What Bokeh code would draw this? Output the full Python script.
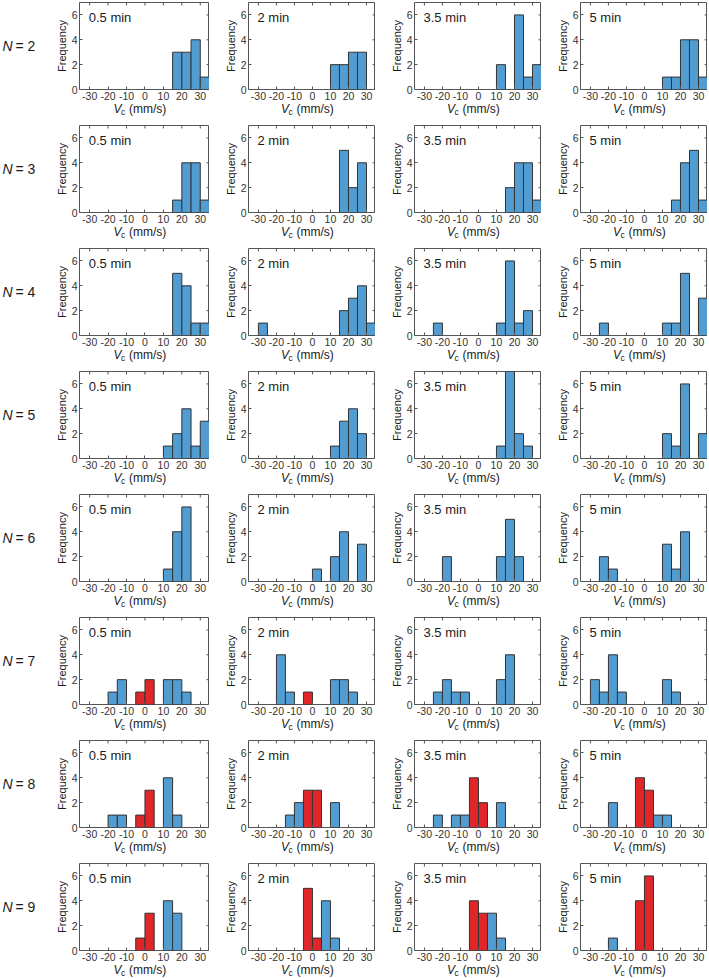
from bokeh.plotting import figure
from bokeh.layouts import gridplot
from bokeh.models import Range1d, Label, FixedTicker
from bokeh.embed import file_html
from bokeh.resources import INLINE

# ---------------- data ----------------
BIN_EDGES = [-35, -30, -25, -20, -15, -10, -5, 0, 5, 10, 15, 20, 25, 30, 35]
TIMES = ["0.5 min", "2 min", "3.5 min", "5 min"]
N_VALUES = [2, 3, 4, 5, 6, 7, 8, 9]
X_TICKS = [-30, -20, -10, 0, 10, 20, 30]
X_TICK_LABELS = ["-30", "-20", "-10", "0", "10", "20", "30"]
Y_TICKS = [0, 2, 4, 6]
X_LIM = (-35.5, 35)
Y_LIM = (0, 7)
Z = [0] * 14

BLUE_N2 = [[0, 0, 0, 0, 0, 0, 0, 0, 0, 0, 3, 3, 4, 1],
           [0, 0, 0, 0, 0, 0, 0, 0, 0, 2, 2, 3, 3, 0],
           [0, 0, 0, 0, 0, 0, 0, 0, 0, 2, 0, 6, 1, 2],
           [0, 0, 0, 0, 0, 0, 0, 0, 0, 1, 1, 4, 4, 1]]
BLUE_N3 = [[0, 0, 0, 0, 0, 0, 0, 0, 0, 0, 1, 4, 4, 1],
           [0, 0, 0, 0, 0, 0, 0, 0, 0, 0, 5, 2, 4, 0],
           [0, 0, 0, 0, 0, 0, 0, 0, 0, 0, 2, 4, 4, 1],
           [0, 0, 0, 0, 0, 0, 0, 0, 0, 0, 1, 4, 5, 1]]
BLUE_N4 = [[0, 0, 0, 0, 0, 0, 0, 0, 0, 0, 5, 4, 1, 1],
           [0, 1, 0, 0, 0, 0, 0, 0, 0, 0, 2, 3, 4, 1],
           [0, 0, 1, 0, 0, 0, 0, 0, 0, 1, 6, 1, 2, 0],
           [0, 0, 1, 0, 0, 0, 0, 0, 0, 1, 1, 5, 0, 3]]
BLUE_N5 = [[0, 0, 0, 0, 0, 0, 0, 0, 0, 1, 2, 4, 1, 3],
           [0, 0, 0, 0, 0, 0, 0, 0, 0, 1, 3, 4, 2, 0],
           [0, 0, 0, 0, 0, 0, 0, 0, 0, 1, 7, 2, 1, 0],
           [0, 0, 0, 0, 0, 0, 0, 0, 0, 2, 1, 6, 0, 2]]
BLUE_N6 = [[0, 0, 0, 0, 0, 0, 0, 0, 0, 1, 4, 6, 0, 0],
           [0, 0, 0, 0, 0, 0, 0, 1, 0, 2, 4, 0, 3, 0],
           [0, 0, 0, 2, 0, 0, 0, 0, 0, 2, 5, 2, 0, 0],
           [0, 0, 2, 1, 0, 0, 0, 0, 0, 3, 1, 4, 0, 0]]
BLUE_N7 = [[0, 0, 0, 1, 2, 0, 0, 0, 0, 2, 2, 1, 0, 0],
           [0, 0, 0, 4, 1, 0, 0, 0, 0, 2, 2, 1, 0, 0],
           [0, 0, 1, 2, 1, 1, 0, 0, 0, 2, 4, 0, 0, 0],
           [0, 2, 1, 4, 1, 0, 0, 0, 0, 2, 1, 0, 0, 0]]
RED_N7 = [[0, 0, 0, 0, 0, 0, 1, 2, 0, 0, 0, 0, 0, 0],
          [0, 0, 0, 0, 0, 0, 1, 0, 0, 0, 0, 0, 0, 0],
          Z, Z]
BLUE_N8 = [[0, 0, 0, 1, 1, 0, 0, 0, 0, 4, 1, 0, 0, 0],
           [0, 0, 0, 0, 1, 2, 0, 0, 0, 2, 0, 0, 0, 0],
           [0, 0, 1, 0, 1, 1, 0, 0, 0, 2, 0, 0, 0, 0],
           [0, 0, 0, 2, 0, 0, 0, 0, 1, 1, 0, 0, 0, 0]]
RED_N8 = [[0, 0, 0, 0, 0, 0, 1, 3, 0, 0, 0, 0, 0, 0],
          [0, 0, 0, 0, 0, 0, 3, 3, 0, 0, 0, 0, 0, 0],
          [0, 0, 0, 0, 0, 0, 4, 2, 0, 0, 0, 0, 0, 0],
          [0, 0, 0, 0, 0, 0, 4, 3, 0, 0, 0, 0, 0, 0]]
BLUE_N9 = [[0, 0, 0, 0, 0, 0, 0, 0, 0, 4, 3, 0, 0, 0],
           [0, 0, 0, 0, 0, 0, 0, 0, 4, 1, 0, 0, 0, 0],
           [0, 0, 0, 0, 0, 0, 0, 0, 3, 1, 0, 0, 0, 0],
           [0, 0, 0, 1, 0, 0, 0, 0, 0, 0, 0, 0, 0, 0]]
RED_N9 = [[0, 0, 0, 0, 0, 0, 1, 3, 0, 0, 0, 0, 0, 0],
          [0, 0, 0, 0, 0, 0, 5, 1, 0, 0, 0, 0, 0, 0],
          [0, 0, 0, 0, 0, 0, 4, 3, 0, 0, 0, 0, 0, 0],
          [0, 0, 0, 0, 0, 0, 4, 6, 0, 0, 0, 0, 0, 0]]

BLUE_ROWS = [BLUE_N2, BLUE_N3, BLUE_N4, BLUE_N5, BLUE_N6, BLUE_N7, BLUE_N8, BLUE_N9]
NO_RED = [Z, Z, Z, Z]
RED_ROWS = [NO_RED, NO_RED, NO_RED, NO_RED, NO_RED, RED_N7, RED_N8, RED_N9]

# ---------------- style ----------------
BLUE = "#519dd2"
RED = "#e1262a"
EDGE = "#333333"
BOX = "#555555"
TXT = "#1a1a1a"
TICK_TXT = "#333333"
FONT = "Liberation Sans"
FRAME_W = 130
FRAME_H = 87
TICK_PX = 3


def bars_source(counts):
    left, right, top = [], [], []
    for i, c in enumerate(counts):
        if c > 0:
            left.append(BIN_EDGES[i])
            right.append(BIN_EDGES[i + 1])
            top.append(c)
    return dict(left=left, right=right, top=top)


def side_label(text, x_off, y_off, size, style="normal", x=0.0, y=0.0):
    return Label(x=x, y=y, x_offset=x_off, y_offset=y_off, text=text, text_font=FONT,
                 text_font_style=style, text_font_size=size, text_color=TXT,
                 text_baseline="middle", text_align="left")


def make_panel(r, c):
    first_col = c == 0
    last_row = r == len(N_VALUES) - 1
    left_b = 79 if first_col else 36
    w = left_b + FRAME_W
    h = 117 if last_row else 123
    p = figure(width=w, height=h,
               x_range=Range1d(*X_LIM), y_range=Range1d(*Y_LIM),
               output_backend="svg", toolbar_location=None, tools="",
               min_border_left=left_b, min_border_right=0,
               min_border_top=2, min_border_bottom=h - 2 - FRAME_H)
    p.grid.visible = False
    p.outline_line_color = BOX
    p.outline_line_width = 1
    p.background_fill_color = "white"
    p.border_fill_color = "white"

    xa = p.xaxis[0]
    xa.ticker = FixedTicker(ticks=X_TICKS)
    xa.major_label_overrides = {t: s for t, s in zip(X_TICKS, X_TICK_LABELS)}
    ya = p.yaxis[0]
    ya.ticker = FixedTicker(ticks=Y_TICKS)
    ya.axis_label = "Frequency"
    ya.axis_label_text_font = FONT
    ya.axis_label_text_font_style = "normal"
    ya.axis_label_text_font_size = "11px"
    ya.axis_label_text_color = TXT
    ya.axis_label_standoff = 1
    for ax in (xa, ya):
        ax.axis_line_color = None
        ax.major_tick_in = TICK_PX
        ax.major_tick_out = 0
        ax.major_tick_line_color = BOX
        ax.minor_tick_line_color = None
        ax.major_label_text_font = FONT
        ax.major_label_text_font_size = "10.5px"
        ax.major_label_text_color = TICK_TXT
        ax.major_label_standoff = 2

    # mirrored inward ticks on the top and right edges of the box
    dx = TICK_PX * (X_LIM[1] - X_LIM[0]) / FRAME_W
    dy = TICK_PX * (Y_LIM[1] - Y_LIM[0]) / FRAME_H
    p.segment(x0=X_TICKS, x1=X_TICKS, y0=[Y_LIM[1]] * len(X_TICKS),
              y1=[Y_LIM[1] - dy] * len(X_TICKS), line_color=BOX, line_width=1)
    p.segment(x0=[X_LIM[1]] * len(Y_TICKS), x1=[X_LIM[1] - dx] * len(Y_TICKS),
              y0=Y_TICKS, y1=Y_TICKS, line_color=BOX, line_width=1)

    blue = BLUE_ROWS[r][c]
    red = RED_ROWS[r][c]
    p.quad(left="left", right="right", top="top", bottom=0, source=bars_source(blue),
           fill_color=BLUE, line_color=EDGE, line_width=1)
    p.quad(left="left", right="right", top="top", bottom=0, source=bars_source(red),
           fill_color=RED, line_color=EDGE, line_width=1)

    # panel time label (inside the frame)
    p.add_layout(Label(x=-30.5, y=5.8, text=TIMES[c], text_font=FONT,
                       text_font_size="13px", text_color=TXT, text_baseline="middle",
                       text_align="left"))

    # x axis label: V_c (mm/s), placed in side panels so it is not clipped
    p.add_layout(side_label("(mm/s)", -16, -19, "12px"), "below")
    p.add_layout(side_label("V", -31.5, -19, "12px", "italic"), "left")
    p.add_layout(side_label("c", -24, -22, "8.5px"), "left")

    # row label: N = k
    if first_col:
        p.add_layout(side_label("N", -77, 0, "14px", "italic", x=X_LIM[0], y=3.5), "left")
        p.add_layout(side_label("= %d" % N_VALUES[r], -64, 0, "14px", x=X_LIM[0], y=3.5),
                     "left")
    return p


children = [[make_panel(r, c) for c in range(4)] for r in range(len(N_VALUES))]
grid = gridplot(children, toolbar_location=None)

open("out.html", "w").write(file_html(grid, INLINE))
